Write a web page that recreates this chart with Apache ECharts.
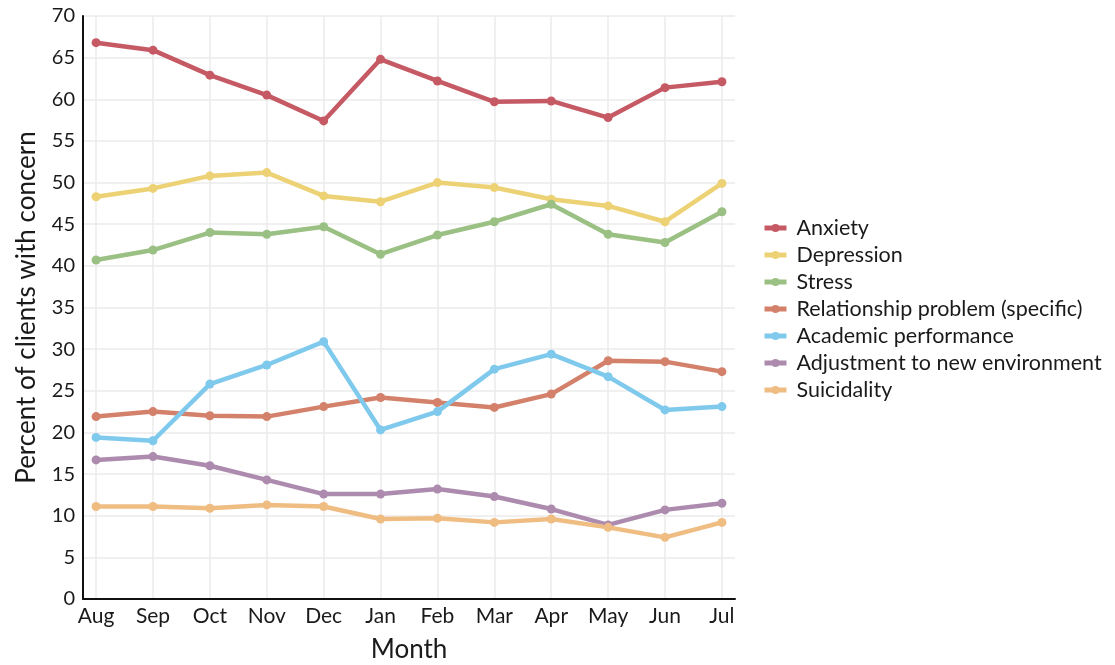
<!DOCTYPE html>
<html>
<head>
<meta charset="utf-8">
<script src="https://cdn.jsdelivr.net/npm/echarts@6/dist/echarts.min.js"></script>
<style>
html,body{margin:0;padding:0;background:#fff;}
#chart{width:1115px;height:665px;}
</style>
</head>
<body>
<div id="chart"></div>
<script>
const months = ['Aug','Sep','Oct','Nov','Dec','Jan','Feb','Mar','Apr','May','Jun','Jul'];
const anxiety = [66.8, 65.9, 62.9, 60.5, 57.4, 64.8, 62.2, 59.7, 59.8, 57.8, 61.4, 62.1];
const depression = [48.3, 49.3, 50.8, 51.2, 48.4, 47.7, 50.0, 49.4, 48.0, 47.2, 45.3, 49.9];
const stress = [40.7, 41.9, 44.0, 43.8, 44.7, 41.4, 43.7, 45.3, 47.4, 43.8, 42.8, 46.5];
const relationship = [21.9, 22.5, 22.0, 21.9, 23.1, 24.2, 23.6, 23.0, 24.6, 28.6, 28.5, 27.3];
const academic = [19.4, 19.0, 25.8, 28.1, 30.9, 20.3, 22.5, 27.6, 29.4, 26.7, 22.7, 23.1];
const adjustment = [16.7, 17.1, 16.0, 14.3, 12.6, 12.6, 13.2, 12.3, 10.8, 8.9, 10.7, 11.5];
const suicidality = [11.1, 11.1, 10.9, 11.3, 11.1, 9.6, 9.7, 9.2, 9.6, 8.6, 7.4, 9.2];
const yTicks = [0,5,10,15,20,25,30,35,40,45,50,55,60,65,70];

const seriesDefs = [
  {name:'Anxiety', data:anxiety, color:'#c65a64'},
  {name:'Depression', data:depression, color:'#ecd275'},
  {name:'Stress', data:stress, color:'#9bc083'},
  {name:'Relationship problem (specific)', data:relationship, color:'#d4816b'},
  {name:'Academic performance', data:academic, color:'#7fc9ec'},
  {name:'Adjustment to new environment', data:adjustment, color:'#ad8bae'},
  {name:'Suicidality', data:suicidality, color:'#efbc82'}
];
const monthIdx = months.map((m,i)=>i);

const chart = echarts.init(document.getElementById('chart'), null, {renderer:'canvas'});
const FONT = 'Lato, "Open Sans", sans-serif';
chart.setOption({
  backgroundColor:'#ffffff',
  animation:false,
  textStyle:{fontFamily:FONT},
  grid:{left:83, right:380, top:16, bottom:66, containLabel:false, outerBoundsMode:'none'},
  legend:{
    orient:'vertical', left:757, top:212,
    itemWidth:22, itemHeight:10, itemGap:5,
    lineStyle:{width:5},
    textStyle:{fontSize:21.5, color:'#1a1a1a', fontFamily:FONT, lineHeight:22, padding:[0,0,0,5]},
    data: seriesDefs.map(s=>s.name)
  },
  xAxis:{
    type:'value', min:-0.23, max:11.23,
    name:'Month', nameLocation:'middle', nameGap:38,
    nameTextStyle:{fontSize:26, color:'#1a1a1a', fontFamily:FONT},
    axisLine:{show:true, onZero:false, lineStyle:{color:'#111', width:2}},
    axisTick:{show:false, customValues:monthIdx},
    axisLabel:{customValues:monthIdx, formatter:v=>months[Math.round(v)], fontSize:21, color:'#1a1a1a', margin:7, fontFamily:FONT},
    splitLine:{show:true, lineStyle:{color:'#ebebeb', width:1.5}}
  },
  yAxis:{
    type:'value', min:0, max:yTicks[yTicks.length-1], interval:5,
    name:'Percent of clients with concern', nameLocation:'middle', nameGap:43,
    nameTextStyle:{fontSize:26, color:'#1a1a1a', fontFamily:FONT},
    axisLine:{show:true, onZero:false, lineStyle:{color:'#111', width:2}},
    axisTick:{show:false},
    axisLabel:{fontSize:20, color:'#1a1a1a', margin:8, fontFamily:FONT},
    splitLine:{show:true, lineStyle:{color:'#ebebeb', width:1.5}}
  },
  series: seriesDefs.map(s=>({
    name:s.name, type:'line',
    data:s.data.map((v,i)=>[monthIdx[i], v]),
    symbol:'circle', symbolSize:9,
    lineStyle:{width:4.5, color:s.color},
    itemStyle:{color:s.color},
    color:s.color
  }))
});
</script>
</body>
</html>
